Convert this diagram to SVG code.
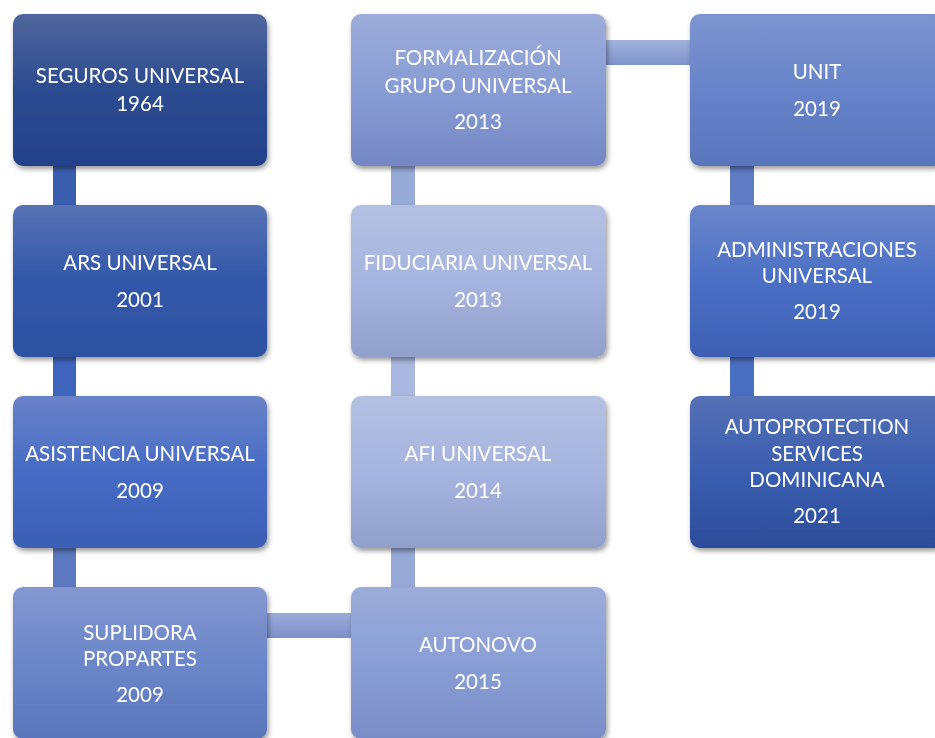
<svg xmlns="http://www.w3.org/2000/svg" width="935" height="738" viewBox="0 0 935 738">
  <defs>
    <filter id="shadow" x="-10%" y="-10%" width="125%" height="130%">
      <feDropShadow dx="1.5" dy="3" stdDeviation="2.5" flood-color="#000" flood-opacity="0.4"/>
    </filter>
    <linearGradient id="g1" x1="0" y1="0" x2="0" y2="1">
      <stop offset="0" stop-color="#50669d"/><stop offset="0.5" stop-color="#2c4b8f"/><stop offset="1" stop-color="#23418a"/>
    </linearGradient>
    <linearGradient id="g2" x1="0" y1="0" x2="0" y2="1">
      <stop offset="0" stop-color="#5872b4"/><stop offset="0.5" stop-color="#3257a8"/><stop offset="1" stop-color="#2d51a2"/>
    </linearGradient>
    <linearGradient id="g3" x1="0" y1="0" x2="0" y2="1">
      <stop offset="0" stop-color="#6a82c7"/><stop offset="0.5" stop-color="#466bc5"/><stop offset="1" stop-color="#3d5fb5"/>
    </linearGradient>
    <linearGradient id="g4" x1="0" y1="0" x2="0" y2="1">
      <stop offset="0" stop-color="#8497cf"/><stop offset="0.5" stop-color="#6b86c9"/><stop offset="1" stop-color="#5a75ba"/>
    </linearGradient>
    <linearGradient id="g5" x1="0" y1="0" x2="0" y2="1">
      <stop offset="0" stop-color="#9cacd9"/><stop offset="0.5" stop-color="#8a9ed6"/><stop offset="1" stop-color="#7a8dc6"/>
    </linearGradient>
    <linearGradient id="g6" x1="0" y1="0" x2="0" y2="1">
      <stop offset="0" stop-color="#b4c0e2"/><stop offset="0.5" stop-color="#a6b5df"/><stop offset="1" stop-color="#919fcb"/>
    </linearGradient>
    <linearGradient id="g8" x1="0" y1="0" x2="0" y2="1">
      <stop offset="0" stop-color="#9dadda"/><stop offset="0.5" stop-color="#889cd4"/><stop offset="1" stop-color="#7487c4"/>
    </linearGradient>
    <linearGradient id="g9" x1="0" y1="0" x2="0" y2="1">
      <stop offset="0" stop-color="#7d95cf"/><stop offset="0.5" stop-color="#6783c9"/><stop offset="1" stop-color="#5975bb"/>
    </linearGradient>
    <linearGradient id="g10" x1="0" y1="0" x2="0" y2="1">
      <stop offset="0" stop-color="#6b86c9"/><stop offset="0.5" stop-color="#4a6fc5"/><stop offset="1" stop-color="#3d60b4"/>
    </linearGradient>
    <linearGradient id="g11" x1="0" y1="0" x2="0" y2="1">
      <stop offset="0" stop-color="#5670b4"/><stop offset="0.5" stop-color="#3a5eb0"/><stop offset="1" stop-color="#2c4c99"/>
    </linearGradient>
    <linearGradient id="ch1" x1="0" y1="0" x2="0" y2="1">
      <stop offset="0" stop-color="#a2b2dd"/><stop offset="1" stop-color="#7f93cb"/>
    </linearGradient>
    <linearGradient id="ch2" x1="0" y1="0" x2="0" y2="1">
      <stop offset="0" stop-color="#9cacd9"/><stop offset="1" stop-color="#7c90c9"/>
    </linearGradient>
    <style>
      .box { filter: url(#shadow); }
      .lbl { font-family: Lato, "Liberation Sans", sans-serif; font-size: 20.5px; fill: #ffffff; text-anchor: middle; }
    </style>
  </defs>
  <rect width="935" height="738" fill="#ffffff"/>

  <!-- connectors, drawn under the boxes -->
  <g id="connectors">
    <rect x="53" y="160" width="23" height="50" fill="#3a5eae"/>
    <rect x="53" y="350" width="23" height="50" fill="#3f64bc"/>
    <rect x="53" y="540" width="23" height="50" fill="#5c78c0"/>
    <rect x="262" y="613" width="94" height="25" fill="url(#ch2)"/>
    <rect x="391" y="540" width="24" height="50" fill="#98a9d8"/>
    <rect x="391" y="350" width="24" height="50" fill="#aab8df"/>
    <rect x="391" y="160" width="24" height="50" fill="#98aad8"/>
    <rect x="600" y="40" width="95" height="25" fill="url(#ch1)"/>
    <rect x="730" y="160" width="24" height="50" fill="#5f7cc4"/>
    <rect x="730" y="350" width="24" height="50" fill="#4a6ec0"/>
  </g>

  <g id="seguros-universal" class="box">
    <rect x="13" y="14" width="254" height="152" rx="10" fill="url(#g1)"/>
    <text class="lbl" x="140" y="83">SEGUROS UNIVERSAL</text>
    <text class="lbl" x="140" y="111">1964</text>
  </g>
  <g id="ars-universal" class="box">
    <rect x="13" y="205" width="254" height="152" rx="10" fill="url(#g2)"/>
    <text class="lbl" x="140" y="270">ARS UNIVERSAL</text>
    <text class="lbl" x="140" y="307">2001</text>
  </g>
  <g id="asistencia-universal" class="box">
    <rect x="13" y="396" width="254" height="152" rx="10" fill="url(#g3)"/>
    <text class="lbl" x="140" y="461">ASISTENCIA UNIVERSAL</text>
    <text class="lbl" x="140" y="498">2009</text>
  </g>
  <g id="suplidora-propartes" class="box">
    <rect x="13" y="587" width="254" height="152" rx="10" fill="url(#g4)"/>
    <text class="lbl" x="140" y="640">SUPLIDORA</text>
    <text class="lbl" x="140" y="666">PROPARTES</text>
    <text class="lbl" x="140" y="702">2009</text>
  </g>
  <g id="autonovo" class="box">
    <rect x="351" y="587" width="255" height="152" rx="10" fill="url(#g5)"/>
    <text class="lbl" x="478" y="652">AUTONOVO</text>
    <text class="lbl" x="478" y="689">2015</text>
  </g>
  <g id="afi-universal" class="box">
    <rect x="351" y="396" width="255" height="152" rx="10" fill="url(#g6)"/>
    <text class="lbl" x="478" y="461">AFI UNIVERSAL</text>
    <text class="lbl" x="478" y="498">2014</text>
  </g>
  <g id="fiduciaria-universal" class="box">
    <rect x="351" y="205" width="255" height="152" rx="10" fill="url(#g6)"/>
    <text class="lbl" x="478" y="270">FIDUCIARIA UNIVERSAL</text>
    <text class="lbl" x="478" y="307">2013</text>
  </g>
  <g id="formalizacion-grupo-universal" class="box">
    <rect x="351" y="14" width="255" height="152" rx="10" fill="url(#g8)"/>
    <text class="lbl" x="478" y="65">FORMALIZACIÓN</text>
    <text class="lbl" x="478" y="93">GRUPO UNIVERSAL</text>
    <text class="lbl" x="478" y="129">2013</text>
  </g>
  <g id="unit" class="box">
    <rect x="690" y="14" width="254" height="152" rx="10" fill="url(#g9)"/>
    <text class="lbl" x="817" y="79">UNIT</text>
    <text class="lbl" x="817" y="116">2019</text>
  </g>
  <g id="administraciones-universal" class="box">
    <rect x="690" y="205" width="254" height="152" rx="10" fill="url(#g10)"/>
    <text class="lbl" x="817" y="257">ADMINISTRACIONES</text>
    <text class="lbl" x="817" y="283">UNIVERSAL</text>
    <text class="lbl" x="817" y="319">2019</text>
  </g>
  <g id="autoprotection-services-dominicana" class="box">
    <rect x="690" y="396" width="254" height="152" rx="10" fill="url(#g11)"/>
    <text class="lbl" x="817" y="434">AUTOPROTECTION</text>
    <text class="lbl" x="817" y="461">SERVICES</text>
    <text class="lbl" x="817" y="487">DOMINICANA</text>
    <text class="lbl" x="817" y="523">2021</text>
  </g>
</svg>
